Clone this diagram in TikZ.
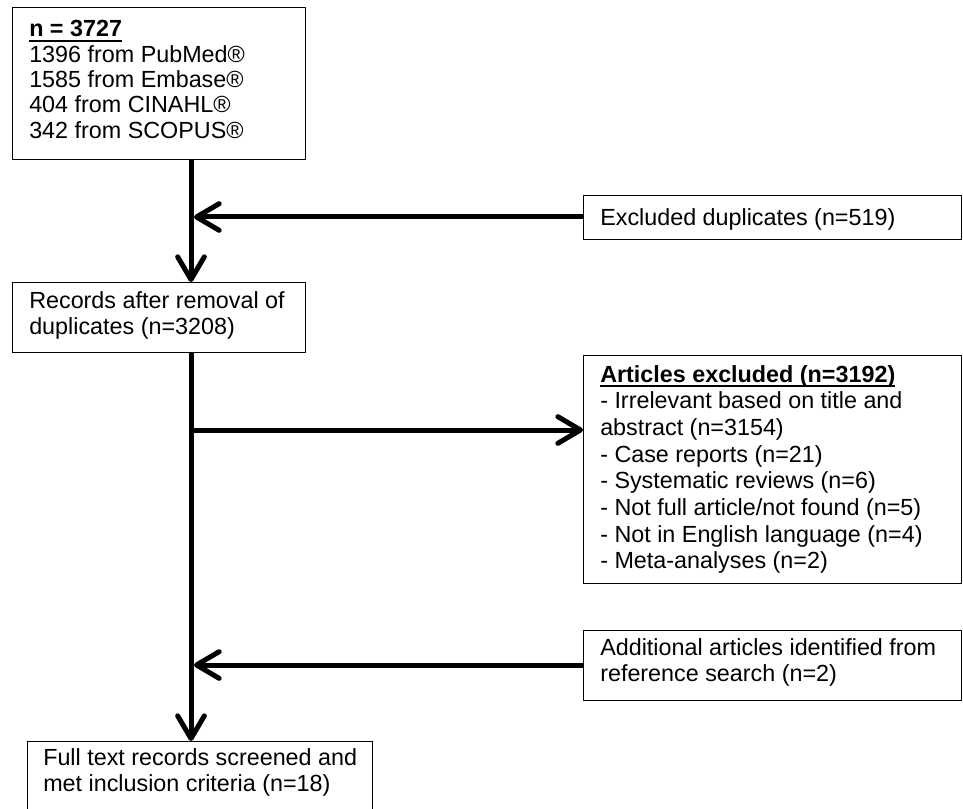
\documentclass[tikz,border=0pt]{standalone}
\usepackage{fontspec}
\setmainfont{Liberation Sans}
\usetikzlibrary{arrows.meta}
\newcommand\myul[1]{\setbox0\hbox{#1}\rlap{\rule[-3.8pt]{\wd0}{1.4pt}}\box0}
\begin{document}
\begin{tikzpicture}[x=0.75pt,y=-0.75pt,
  box/.style={draw=black, line width=1.1pt, rectangle, inner sep=0pt, anchor=north west},
  txt/.style={anchor=north west, inner sep=0pt, align=left, text=black, font=\fontsize{17.5}{20}\selectfont},
  arr/.style={draw=black, line width=3.75pt, -{Straight Barb[length=17pt,width=20pt,round]}}]
\fill[white] (0,0) rectangle (963,809);
\useasboundingbox (0,0) rectangle (963,809);
\clip (0,0) rectangle (963,809);

% boxes
\node[box, minimum width=219.75pt, minimum height=114pt] (top) at (12,7) {};
\node[box, minimum width=283.5pt, minimum height=33pt] (exc) at (583,195) {};
\node[box, minimum width=219.75pt, minimum height=52.5pt] (rec) at (12,282) {};
\node[box, minimum width=283.5pt, minimum height=171pt] (art) at (583,355) {};
\node[box, minimum width=283.5pt, minimum height=52.5pt] (add) at (583,630) {};
\node[box, minimum width=258.75pt, minimum height=75pt] (full) at (27,741) {};

% texts
\node[txt, font=\fontsize{17.5}{19}\selectfont] (ttop) at (29,20.3) {\myul{\textbf{n = 3727}}\\1396 from PubMed®\\1585 from Embase®\\404 from CINAHL®\\342 from SCOPUS®};
\node[txt] (texc) at (600,208) {Excluded duplicates (n=519)};
\node[txt] (trec) at (29,291) {Records after removal of\\duplicates (n=3208)};
\node[txt] (tart) at (600,365) {\myul{\textbf{Articles excluded (n=3192)}}\\- Irrelevant based on title and\\abstract (n=3154)\\- Case reports (n=21)\\- Systematic reviews (n=6)\\- Not full article/not found (n=5)\\- Not in English language (n=4)\\- Meta-analyses (n=2)};
\node[txt] (tadd) at (600,638) {Additional articles identified from\\reference search (n=2)};
\node[txt] (tfull) at (43,748) {Full text records screened and\\met inclusion criteria (n=18)};

% connectors
\coordinate (sx) at (191,0);
\coordinate (j1) at (194,217);
\coordinate (j2) at (191,430);
\coordinate (j3) at (194,665);
\draw[arr] (top.south -| sx) -- (rec.north -| sx);
\draw[arr] (rec.south -| sx) -- (full.north -| sx);
\draw[arr] (exc.west |- j1) -- (j1);
\draw[arr] (j2) -- (art.west |- j2);
\draw[arr] (add.west |- j3) -- (j3);
\end{tikzpicture}
\end{document}
